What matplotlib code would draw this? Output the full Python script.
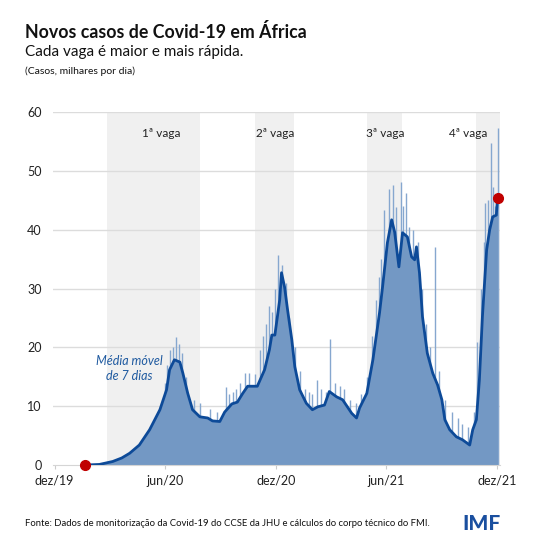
import matplotlib.pyplot as plt
import pandas as pd

plt.rcParams['font.family'] = ['Lato', 'DejaVu Sans']

base = pd.Timestamp('2019-12-01')

# media movel de 7 dias (dias desde 1/dez/2019, milhares de casos)
ma_dias = [51, 74, 96, 111, 124, 140, 157, 174, 185, 190, 198, 207, 212, 220, 228,
           240, 253, 261, 273, 281, 293, 302, 311, 319, 335, 347, 355, 359, 364, 372,
           375, 380, 385, 392, 397, 405, 416, 426, 435, 446, 454, 466, 476, 491, 499,
           504, 516, 526, 537, 542, 550, 557, 562, 569, 575, 583, 590, 595, 598, 603,
           608, 616, 625, 633, 640, 645, 653, 664, 674, 686, 691, 697, 702, 707, 714,
           719, 724, 730, 732]
ma_vals = [0, 0.1, 0.6, 1.2, 2.0, 3.4, 6.0, 9.4, 12.8, 16.2, 17.9, 17.5, 15.6, 12.2, 9.4,
           8.2, 8.0, 7.5, 7.4, 9.0, 10.4, 10.7, 12.2, 13.4, 13.4, 16.2, 19.6, 22.1, 22.1, 28.1,
           32.7, 30.3, 26.4, 21.3, 16.7, 12.8, 10.5, 9.4, 9.9, 10.2, 12.5, 11.6, 11.1, 8.8, 8.0,
           9.7, 12.2, 17.9, 25.9, 30.3, 37.8, 41.7, 39.6, 33.7, 39.5, 38.8, 35.4, 34.9, 37.1, 32.7,
           25.2, 19.0, 15.6, 13.6, 11.1, 7.7, 6.0, 4.8, 4.3, 3.4, 6.0, 7.7, 14.5, 25.2, 36.6,
           40.0, 42.2, 42.5, 45.4]

# picos diarios
pico_dias = [182, 186, 190, 195, 200, 205, 210, 217, 231, 240, 256, 269, 283, 288, 294,
             300, 306, 314, 322, 331, 339, 344, 349, 355, 360, 364, 370, 375, 382, 388,
             397, 405, 413, 420, 425, 433, 441, 448, 455, 463, 471, 479, 488, 498, 507,
             517, 524, 531, 536, 539, 545, 552, 559, 565, 572, 576, 580, 585, 592, 600,
             607, 613, 620, 628, 636, 646, 656, 666, 673, 683, 693, 698, 704, 709, 711,
             716, 721, 724, 727, 732]
pico_vals = [14, 17, 19.5, 20, 21.8, 20.5, 19, 15, 11, 10.5, 9.5, 9, 13.3, 12, 12.5,
             13, 14, 15.6, 15.6, 15.5, 19.6, 22, 24, 27, 26, 30, 35.7, 34, 31, 25,
             20, 16, 13, 12.5, 12, 14.5, 13, 12.5, 21.5, 14, 13.5, 13, 11, 10.5, 12,
             15, 22, 28, 32, 35, 43.4, 47, 47.6, 43.9, 48.1, 44, 46.3, 40.5, 40, 38,
             30, 24, 20, 37.1, 16, 11, 9, 8, 7, 6.5, 9, 20.9, 30, 38, 44.6,
             45, 54.8, 47.3, 44, 57.3]

# vagas (inicio, fim em dias) e rotulos
vagas = [(86, 241), (332, 395), (516, 574), (697, 736)]
vaga_txt = ['1ª vaga', '2ª vaga', '3ª vaga', '4ª vaga']
vaga_x = [177, 364, 547, 683]

ticks = ['2019-12-01', '2020-06-01', '2020-12-01', '2021-06-01', '2021-12-01']
tick_lbl = ['dez/19', 'jun/20', 'dez/20', 'jun/21', 'dez/21']

d = lambda n: base + pd.Timedelta(days=n)
ma_x = [d(n) for n in ma_dias]
pico_x = [d(n) for n in pico_dias]

fig = plt.figure(figsize=(5.5, 5.5), dpi=100)
ax = fig.add_axes([0.096, 0.1545, 0.813, 0.6415])

for (a, b) in vagas:
    ax.axvspan(d(a), d(b), color='#f0f0f0', lw=0, zorder=0)
for y in range(10, 61, 10):
    ax.axhline(y, color='#dcdcdc', lw=1, zorder=1)

area = '#7398c4'
ax.fill_between(ma_x, 0, ma_vals, color=area, lw=0, zorder=2)
# spikes sit behind the area so only the part above it shows
ax.vlines(pico_x, 0, pico_vals, color='#86a7cf', lw=1.0, zorder=1.8)
ax.plot(ma_x, ma_vals, color='#0d4a98', lw=2, zorder=3)
ax.plot([ma_x[0], ma_x[-1]], [ma_vals[0], ma_vals[-1]], 'o', color='#c00000',
        ms=7, zorder=4, clip_on=False)

for t, xv in zip(vaga_txt, vaga_x):
    ax.text(d(xv), 56.3, t, ha='center', va='center', fontsize=8.5, color='#222222')
ax.text(d(124), 16.4, 'Média móvel\nde 7 dias', ha='center', va='center', fontsize=9,
        style='italic', color='#1f5aa0', linespacing=1.3)

ax.set_xlim(d(-3), d(736))
ax.set_ylim(0, 60)
ax.set_yticks(range(0, 61, 10))
ax.set_xticks([pd.Timestamp(t) for t in ticks])
ax.set_xticklabels(tick_lbl)
ax.tick_params(axis='y', length=0, labelsize=9, colors='#222222', pad=8)
ax.tick_params(axis='x', length=3, color='#cccccc', labelsize=9, labelcolor='#222222', pad=4)
for s in ['top', 'right', 'left']:
    ax.spines[s].set_visible(False)
ax.spines['bottom'].set_color('#d5d5d5')

fig.text(0.046, 0.942, 'Novos casos de Covid-19 em África', fontsize=12.8, fontweight='bold',
         va='center', color='#111111')
fig.text(0.046, 0.905, 'Cada vaga é maior e mais rápida.', fontsize=11, va='center',
         color='#111111')
fig.text(0.046, 0.87, '(Casos, milhares por dia)', fontsize=7.5, va='center', color='#111111')
fig.text(0.046, 0.049, 'Fonte: Dados de monitorização da Covid-19 do CCSE da JHU e cálculos do corpo técnico do FMI.',
         fontsize=6.8, va='center', color='#111111')
fig.text(0.91, 0.049, 'IMF', fontsize=15, fontweight='black', va='center', ha='right',
         color='#1a4f9f')

fig.savefig('out.png', dpi=100, facecolor='white')
